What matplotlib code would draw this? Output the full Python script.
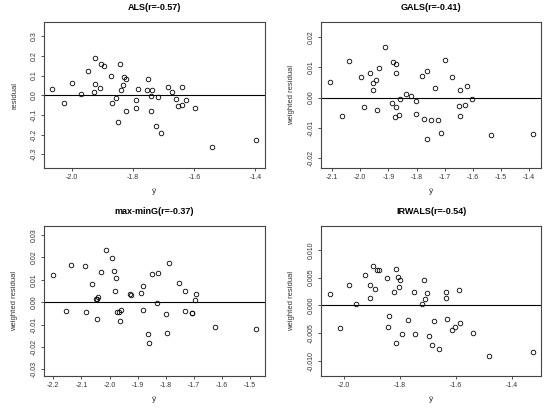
import matplotlib
matplotlib.use('Agg')
import matplotlib.pyplot as plt

plt.rcParams['font.family'] = ['Liberation Sans', 'DejaVu Sans']
plt.rcParams['axes.unicode_minus'] = False

# ALS
als_x = [-2.0645, -2.027, -2.001, -1.972, -1.949, -1.925, -1.927, -1.925, -1.909, -1.906,
         -1.895, -1.873, -1.870, -1.856, -1.851, -1.844, -1.841, -1.834, -1.829, -1.825,
         -1.824, -1.790, -1.791, -1.783, -1.755, -1.751, -1.742, -1.738, -1.741, -1.725,
         -1.720, -1.710, -1.685, -1.674, -1.661, -1.652, -1.639, -1.639, -1.628, -1.597,
         -1.541, -1.398]
als_y = [0.034, -0.041, 0.062, 0.009, 0.122, 0.187, 0.019, 0.055, 0.038, 0.158,
         0.151, 0.098, -0.038, -0.012, -0.137, 0.158, 0.027, 0.053, 0.093, 0.084,
         -0.079, -0.024, -0.063, 0.031, 0.027, 0.084, -0.003, 0.029, -0.079, -0.156,
         -0.009, -0.190, 0.043, 0.017, -0.019, -0.055, 0.041, -0.050, -0.024, -0.065,
         -0.264, -0.226]

# GALS
gals_x = [-2.108, -2.064, -2.039, -1.998, -1.987, -1.966, -1.956, -1.953, -1.944, -1.941,
          -1.933, -1.911, -1.888, -1.883, -1.878, -1.872, -1.872, -1.872, -1.864, -1.859,
          -1.839, -1.819, -1.801, -1.802, -1.782, -1.772, -1.763, -1.762, -1.748, -1.734,
          -1.724, -1.712, -1.698, -1.673, -1.650, -1.645, -1.644, -1.627, -1.621, -1.604,
          -1.535, -1.386]
gals_y = [0.0053, -0.0059, 0.0122, 0.0068, -0.0031, 0.0081, 0.0049, 0.0025, 0.0057, -0.0041,
          0.0097, 0.0167, -0.0017, 0.0117, -0.0065, 0.0110, 0.0080, -0.0030, -0.0057, -0.0004,
          0.0011, 0.0004, -0.0010, -0.0054, 0.0073, -0.0070, -0.0137, 0.0089, -0.0073, 0.0031,
          -0.0072, -0.0116, 0.0123, 0.0068, -0.0029, 0.0025, -0.0060, -0.0025, 0.0039, -0.0006,
          -0.0124, -0.0120]

# max-minG
mmg_x = [-2.200, -2.155, -2.136, -2.089, -2.084, -2.062, -2.049, -2.046, -2.043, -2.040,
         -2.031, -2.013, -1.990, -1.985, -1.979, -1.977, -1.973, -1.965, -1.962, -1.958,
         -1.926, -1.923, -1.889, -1.881, -1.880, -1.863, -1.858, -1.850, -1.831, -1.826,
         -1.799, -1.796, -1.790, -1.754, -1.732, -1.731, -1.708, -1.707, -1.695, -1.692,
         -1.624, -1.479]
mmg_y = [0.0122, -0.0039, 0.0164, 0.0163, -0.0045, 0.0083, 0.0015, 0.0012, -0.0077, 0.0023,
         0.0134, 0.0232, 0.0198, 0.0139, 0.0050, 0.0107, -0.0042, -0.0044, -0.0084, -0.0035,
         0.0036, 0.0030, 0.0042, 0.0072, -0.0036, -0.0143, -0.0181, 0.0127, -0.0003, 0.0130,
         -0.0053, -0.0137, 0.0173, 0.0086, 0.0051, -0.0039, -0.0047, -0.0050, 0.0008, 0.0035,
         -0.0109, -0.0121]

# IRWALS
irw_x = [-2.049, -2.013, -1.981, -1.957, -1.924, -1.907, -1.906, -1.896, -1.889, -1.879,
         -1.874, -1.844, -1.843, -1.838, -1.819, -1.812, -1.811, -1.807, -1.801, -1.798,
         -1.793, -1.770, -1.750, -1.745, -1.720, -1.711, -1.710, -1.702, -1.695, -1.683,
         -1.676, -1.658, -1.635, -1.635, -1.630, -1.611, -1.602, -1.588, -1.583, -1.539,
         -1.480, -1.323]
irw_y = [0.00212, -0.0040, 0.0036, 0.00035, 0.0054, 0.0037, 0.00135, 0.0070, 0.0029, 0.0064,
         0.0064, 0.0049, -0.0038, -0.0019, 0.0024, 0.0065, -0.0068, 0.0051, 0.0034, 0.0046,
         -0.0052, -0.0026, 0.0024, -0.0051, 0.00018, 0.0045, 0.0012, 0.0023, -0.0054, -0.0071,
         -0.0028, -0.0079, 0.0025, 0.0013, -0.0024, -0.0044, -0.0039, 0.0027, -0.0032, -0.0050,
         -0.0091, -0.0084]

titles = ['ALS(r=-0.57)', 'GALS(r=-0.41)', 'max-minG(r=-0.37)', 'IRWALS(r=-0.54)']
ylabels = ['residual', 'weighted residual', 'weighted residual', 'weighted residual']
xticks = [[-2.0, -1.8, -1.6, -1.4],
          [-2.1, -2.0, -1.9, -1.8, -1.7, -1.6, -1.5, -1.4],
          [-2.2, -2.1, -2.0, -1.9, -1.8, -1.7, -1.6, -1.5],
          [-2.0, -1.8, -1.6, -1.4]]
yticks = [[-0.3, -0.2, -0.1, 0.0, 0.1, 0.2, 0.3],
          [-0.02, -0.01, 0.0, 0.01, 0.02],
          [-0.03, -0.02, -0.01, 0.0, 0.01, 0.02, 0.03],
          [-0.010, -0.005, 0.0, 0.005, 0.010]]
yfmt = ['%.1f', '%.2f', '%.2f', '%.3f']
xlims = [(-2.092, -1.368), (-2.1385, -1.3574), (-2.233, -1.447), (-2.080, -1.294)]
ylims = [(-0.370, 0.372), (-0.0232, 0.0249), (-0.0329, 0.0339), (-0.01265, 0.01424)]
rects = [[0.080, 0.589, 0.402, 0.357],
         [0.584, 0.589, 0.400, 0.357],
         [0.080, 0.081, 0.402, 0.366],
         [0.584, 0.081, 0.400, 0.366]]
data = [(als_x, als_y), (gals_x, gals_y), (mmg_x, mmg_y), (irw_x, irw_y)]

fig = plt.figure(figsize=(5.5, 4.09), dpi=100)
for i in range(4):
    ax = fig.add_axes(rects[i])
    x, y = data[i]
    ax.plot(x, y, 'o', mfc='none', mec='black', ms=3.3, mew=0.6)
    ax.axhline(0, color='black', lw=0.8)
    ax.set_xlim(xlims[i])
    ax.set_ylim(ylims[i])
    ax.set_xticks(xticks[i])
    ax.set_xticklabels(['%.1f' % v for v in xticks[i]])
    ax.set_yticks(yticks[i])
    ax.set_yticklabels([yfmt[i] % v for v in yticks[i]], rotation=90, va='center')
    ax.tick_params(labelsize=5, length=2.5, width=0.6, pad=2, colors='#333333')
    for s in ax.spines.values():
        s.set_linewidth(0.8)
        s.set_color('#444444')
    ax.set_title(titles[i], fontsize=6.5, fontweight='bold', pad=9)
    ax.set_xlabel('ŷ', fontsize=6, labelpad=5, color='#333333')
    ax.set_ylabel(ylabels[i], fontsize=5.5, labelpad=9, color='#333333')

plt.savefig('out.png', dpi=100)
